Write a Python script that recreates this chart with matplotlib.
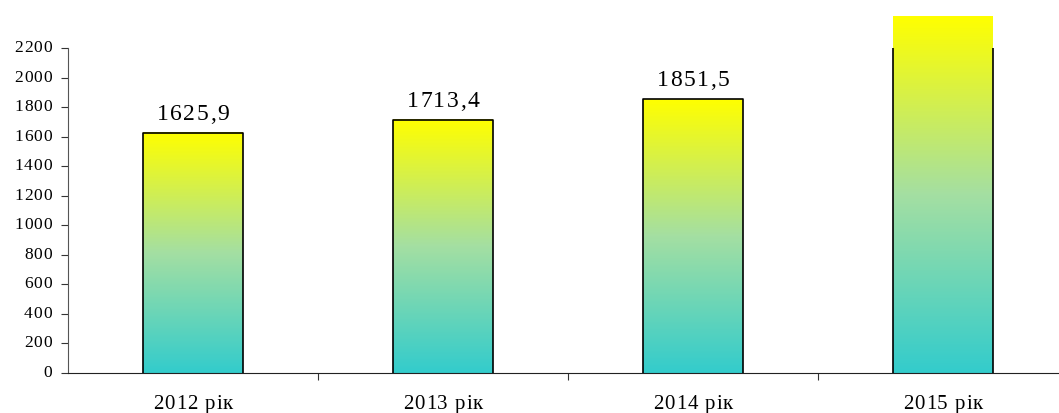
import matplotlib.pyplot as plt
import matplotlib.transforms as mtrans
import numpy as np
from matplotlib.colors import LinearSegmentedColormap
from matplotlib.font_manager import FontProperties, findfont, get_font
from matplotlib import ft2font

years = ['2012 рік', '2013 рік', '2014 рік', '2015 рік']
values = [1625.9, 1713.4, 1851.5, 2410]
labels = ['1625,9', '1713,4', '1851,5', '']
yticks = list(range(0, 2201, 200))

plt.rcParams['font.family'] = ['Liberation Serif', 'DejaVu Serif']

fig = plt.figure(figsize=(10.59, 4.13), dpi=100)
ax = fig.add_axes([68 / 1059, 40 / 413, 1000 / 1059, 325 / 413])

# letter-spaced text, drawn one glyph at a time
font = get_font(findfont(FontProperties(family='Liberation Serif')))
try:
    NOHINT = ft2font.LoadFlags.NO_HINTING
except AttributeError:
    NOHINT = ft2font.LOAD_NO_HINTING


def adv(ch, size):
    font.set_size(size, 72)
    g = font.load_char(ord(ch), flags=NOHINT)
    return g.linearHoriAdvance / 65536


def spaced(x, y, s, size, gap_px, trans, ha='center', va='baseline', dx=0, dy=0):
    ws = [adv(c, size) for c in s]
    gap = gap_px * 0.72
    total = sum(ws) + gap * (len(s) - 1)
    pos = {'center': -total / 2, 'right': -total, 'left': 0}[ha] + dx * 0.72
    for c, w in zip(s, ws):
        if c != ' ':
            ax.annotate(c, xy=(x, y), xycoords=trans, xytext=(pos, dy * 0.72),
                        textcoords='offset points', ha='left', va=va,
                        fontsize=size, annotation_clip=False)
        pos += w + gap


cmap = LinearSegmentedColormap.from_list('ty', ['#33CCCC', '#A4DFA2', '#FFFF00'])
grad = np.linspace(0, 1, 256).reshape(-1, 1)
w = 0.4
for i, v in enumerate(values):
    ax.imshow(grad, cmap=cmap, origin='lower', aspect='auto',
              extent=(i - w / 2, i + w / 2, 0, v), zorder=2, clip_on=False)
    ax.plot([i - w / 2, i - w / 2, i + w / 2, i + w / 2], [0, v, v, 0],
            color='black', lw=1.2, zorder=3)
    if labels[i]:
        spaced(i, v, labels[i], 17, 1.5, ax.transData, dy=13)

ax.set_xlim(-0.5, 3.5)
ax.set_ylim(0, 2200)
ax.set_yticks(yticks)
ax.set_yticklabels([])
ax.set_xticks([0.5, 1.5, 2.5, 3.5])
ax.set_xticklabels([])
ax.tick_params(axis='x', length=5, direction='out', color='#333333')
ax.tick_params(axis='y', length=5, direction='out', color='#333333')

ylab_tr = mtrans.blended_transform_factory(ax.transAxes, ax.transData)
for t in yticks:
    spaced(0, t, str(t), 12.5, 1, ylab_tr, ha='right', va='center', dx=-16)
xlab_tr = mtrans.blended_transform_factory(ax.transData, ax.transAxes)
for i, yr in enumerate(years):
    spaced(i, 0, yr, 15, 1, xlab_tr, dy=-36)

for s in ['top', 'right']:
    ax.spines[s].set_visible(False)
ax.spines['left'].set_color('#555555')
ax.spines['bottom'].set_color('#222222')

fig.savefig('out.png', dpi=100)
